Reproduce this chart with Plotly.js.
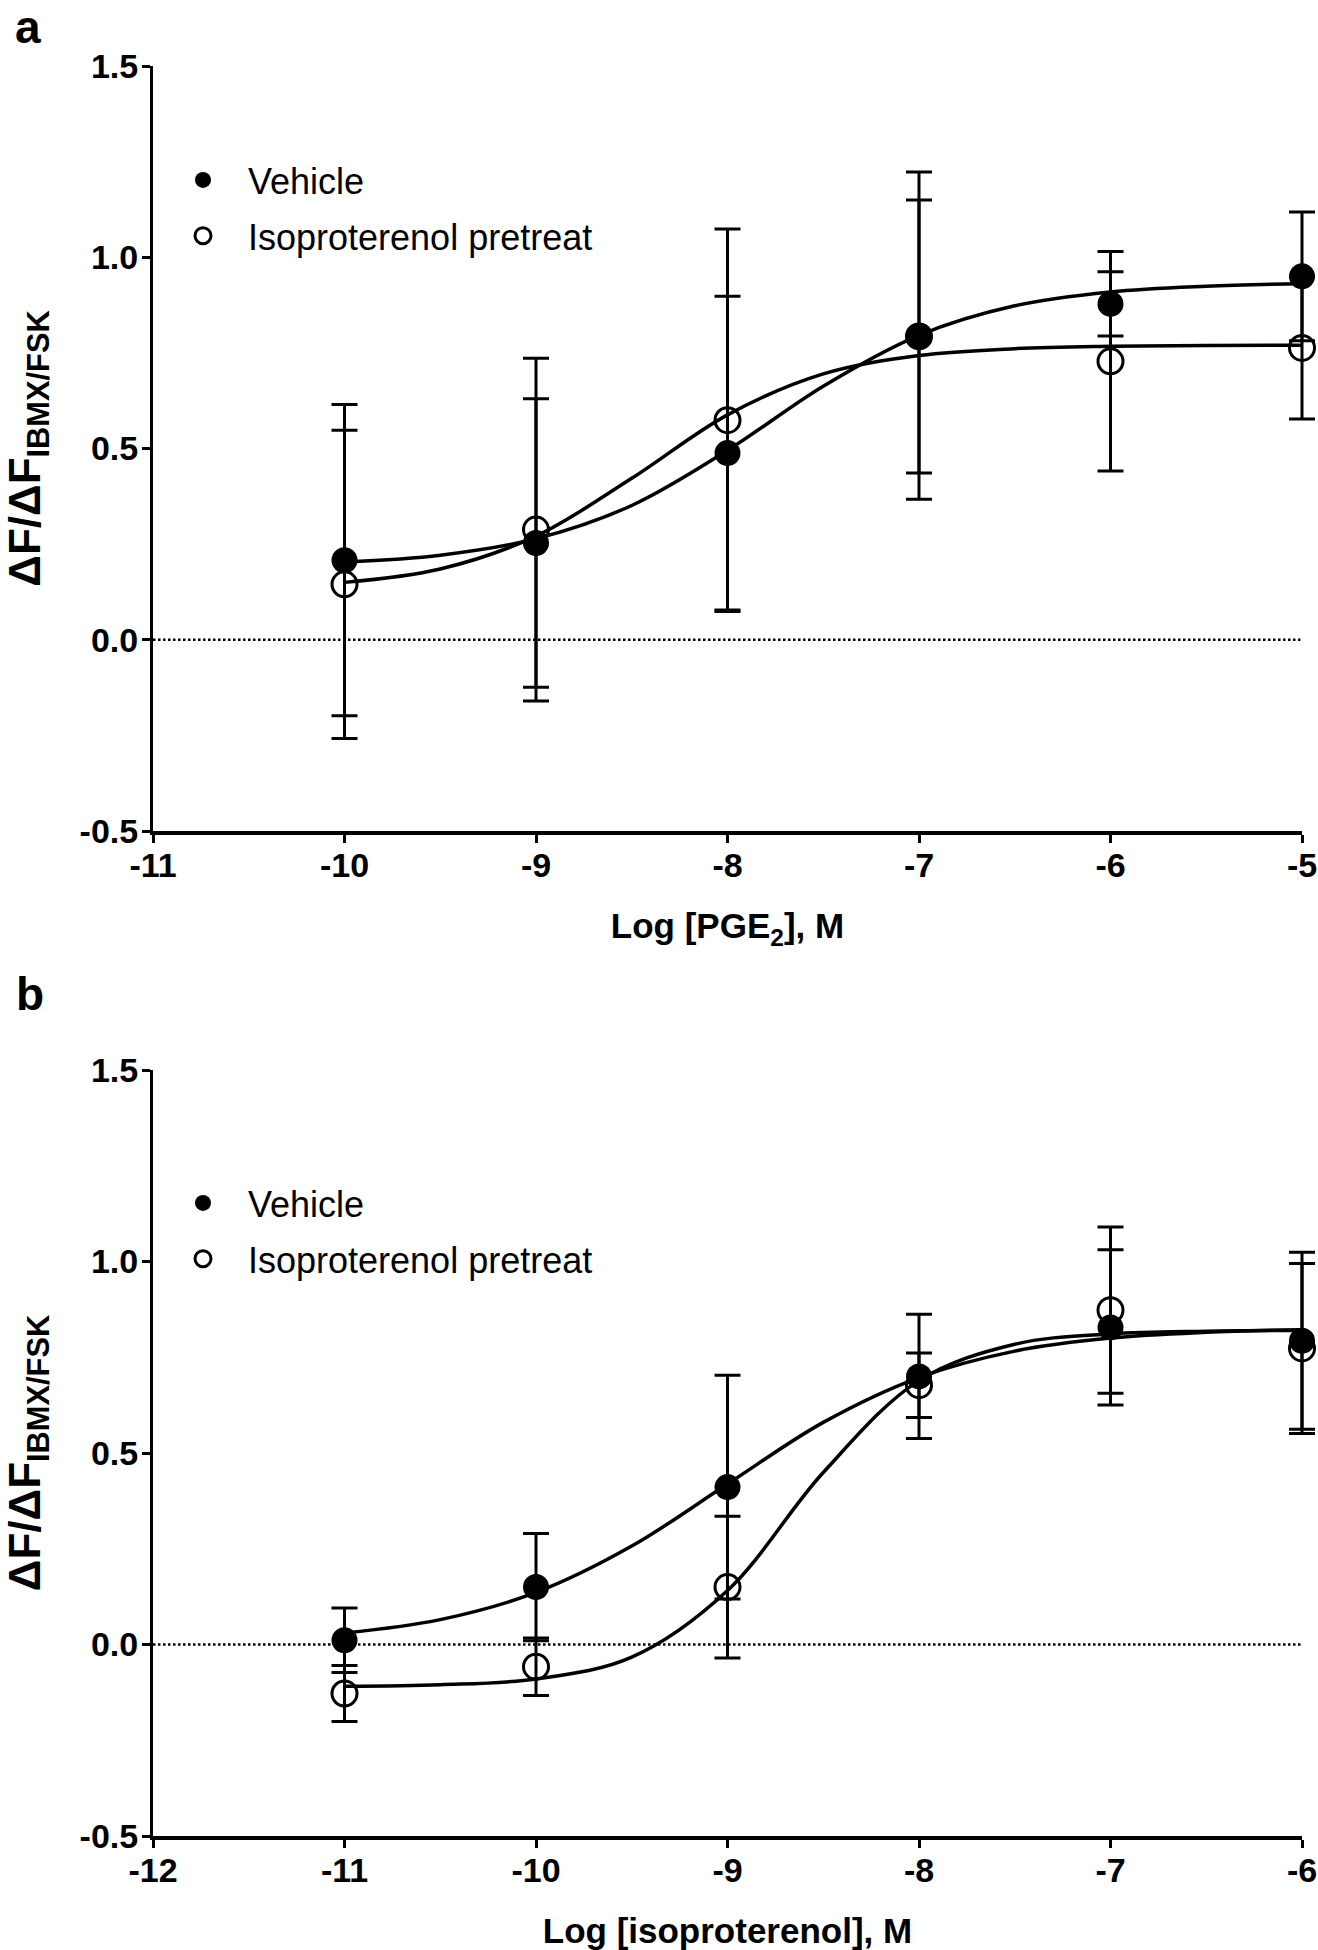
<!DOCTYPE html>
<html>
<head>
<meta charset="utf-8">
<script src="https://cdn.plot.ly/plotly-3.0.1.min.js"></script>
<style>
  html, body { margin: 0; padding: 0; background: #ffffff; }
  #chart { width: 1318px; height: 1950px; }
</style>
</head>
<body>
<div id="chart"></div>
<script>
// ---------- Panel a : PGE2 ----------
var doseA = [-10, -9, -8, -7, -6, -5];
var vehicleA = [0.208, 0.253, 0.488, 0.795, 0.878, 0.950];
var vehicleErrA = [0.407, 0.377, 0.410, 0.428, 0.084, 0.168];
var isoA = [0.145, 0.288, 0.574, 0.793, 0.728, 0.763];
var isoErrA = [0.403, 0.448, 0.500, 0.357, 0.287, 0.186];
// fitted curves
var curveXA = [-10, -9.5, -9, -8.5, -8, -7.5, -7, -6.5, -6, -5.5, -5];
var vehicleFitA = [0.203, 0.221, 0.264, 0.351, 0.495, 0.663, 0.796, 0.873, 0.909, 0.924, 0.931];
var isoFitA = [0.150, 0.185, 0.271, 0.422, 0.588, 0.695, 0.743, 0.761, 0.767, 0.769, 0.770];

// ---------- Panel b : isoproterenol ----------
var doseB = [-11, -10, -9, -8, -7, -6];
var vehicleB = [0.011, 0.150, 0.411, 0.700, 0.828, 0.793];
var vehicleErrB = [0.084, 0.140, 0.292, 0.162, 0.203, 0.231];
var isoB = [-0.128, -0.058, 0.150, 0.677, 0.873, 0.773];
var isoErrB = [0.073, 0.075, 0.185, 0.084, 0.217, 0.222];
var curveXB = [-11, -10.5, -10, -9.5, -9, -8.5, -8, -7.5, -7, -6.5, -6];
var vehicleFitB = [0.030, 0.065, 0.136, 0.257, 0.419, 0.580, 0.697, 0.766, 0.800, 0.815, 0.822];
var isoFitB = [-0.109, -0.105, -0.090, -0.033, 0.141, 0.449, 0.689, 0.784, 0.811, 0.818, 0.820];

// ---------- tick labels ----------
var xTickValsA = [-11, -10, -9, -8, -7, -6, -5];
var xTickTextA = ["-11", "-10", "-9", "-8", "-7", "-6", "-5"];
var xTickValsB = [-12, -11, -10, -9, -8, -7, -6];
var xTickTextB = ["-12", "-11", "-10", "-9", "-8", "-7", "-6"];
var yTickVals = [-0.5, 0, 0.5, 1.0, 1.5];
var yTickText = ["-0.5", "0.0", "0.5", "1.0", "1.5"];

var seriesNames = ["Vehicle", "Isoproterenol pretreat"];
var panelLabels = ["a", "b"];
var xTitles = ["Log [PGE<sub>2</sub>], M", "Log [isoproterenol], M"];
var yTitle = "ΔF/ΔF<sub>IBMX/FSK</sub>";

var FONT = "Liberation Sans, Arial, Helvetica, sans-serif";
var W = 1318, H = 1950;
var AX_L = 153, AX_R = 1302;            // pixel extent of the visible x axes
var PX_PER_UNIT = (AX_R - AX_L) / 6;     // both panels span 6 log units

function curve(x, y, xa, ya) {
  return { x: x, y: y, xaxis: xa, yaxis: ya, mode: "lines", type: "scatter",
    line: { color: "#000", width: 3.5, shape: "spline" }, showlegend: false, hoverinfo: "skip" };
}
function pts(x, y, err, xa, ya, filled, name, legendId, grp, rank) {
  return { x: x, y: y, xaxis: xa, yaxis: ya, mode: "markers", type: "scatter", name: name,
    legend: legendId, legendgroup: grp, legendrank: rank, cliponaxis: false,
    error_y: { type: "data", array: err, visible: true, color: "#000", thickness: 3, width: 13 },
    marker: filled
      ? { symbol: "circle", size: 26, color: "#000", line: { color: "#000", width: 0 } }
      : { symbol: "circle-open", size: 25, color: "#000", line: { color: "#000", width: 3 } } };
}

var data = [
  curve(curveXA, vehicleFitA, "x", "y"),
  curve(curveXA, isoFitA, "x", "y"),
  pts(doseA, isoA, isoErrA, "x3", "y", false, seriesNames[1], "legend", "a2", 2),
  pts(doseA, vehicleA, vehicleErrA, "x3", "y", true, seriesNames[0], "legend", "a1", 1),
  curve(curveXB, vehicleFitB, "x2", "y2"),
  curve(curveXB, isoFitB, "x2", "y2"),
  pts(doseB, isoB, isoErrB, "x4", "y2", false, seriesNames[1], "legend2", "b2", 2),
  pts(doseB, vehicleB, vehicleErrB, "x4", "y2", true, seriesNames[0], "legend2", "b1", 1)
];

function xaxis(vals, text, anchor, title) {
  return {
    domain: [AX_L / W, AX_R / W], range: [vals[0], vals[vals.length - 1]], anchor: anchor,
    showline: true, linecolor: "#000", linewidth: 4, mirror: false,
    ticks: "outside", ticklen: 8, tickwidth: 3, tickcolor: "#000",
    tickmode: "array", tickvals: vals, ticktext: text, ticklabelstandoff: -7,
    tickfont: { family: FONT, size: 34, color: "#000", weight: "bold" },
    showgrid: false, zeroline: false, fixedrange: true,
    title: { text: title, standoff: 32, font: { family: FONT, size: 35, color: "#000", weight: "bold" } }
  };
}
// hidden twin axis with the same scale but extending to the right page edge,
// so the error-bar caps at the last dose are not clipped
function twinX(vals, anchor) {
  return {
    domain: [AX_L / W, 1], range: [vals[0], vals[0] + (W - AX_L) / PX_PER_UNIT],
    anchor: anchor, visible: false, showgrid: false, zeroline: false, fixedrange: true
  };
}
function yaxis(domain, anchor) {
  return {
    domain: domain, range: [-0.5, 1.5], anchor: anchor,
    showline: true, linecolor: "#000", linewidth: 3,
    ticks: "outside", ticklen: 8, tickwidth: 3, tickcolor: "#000",
    tickmode: "array", tickvals: yTickVals, ticktext: yTickText, ticklabelstandoff: -3,
    tickfont: { family: FONT, size: 34, color: "#000", weight: "bold" },
    showgrid: false, zeroline: false, fixedrange: true,
    title: { text: yTitle, standoff: 38, font: { family: FONT, size: 44, color: "#000", weight: "bold" } }
  };
}

function legendCfg(topPx) {
  return {
    x: 158 / W, y: 1 - topPx / H, xref: "paper", yref: "paper", xanchor: "left", yanchor: "top",
    bgcolor: "rgba(0,0,0,0)", borderwidth: 0, tracegroupgap: 6, traceorder: "grouped",
    font: { family: FONT, size: 36, color: "#000" }, itemwidth: 80
  };
}

var layout = {
  width: W, height: H,
  margin: { l: 0, r: 0, t: 0, b: 0, pad: 0 },
  paper_bgcolor: "#fff", plot_bgcolor: "rgba(0,0,0,0)",
  font: { family: FONT, color: "#000" },
  xaxis: xaxis(xTickValsA, xTickTextA, "y", xTitles[0]),
  yaxis: yaxis([1 - 831 / H, 1 - 66 / H], "x"),
  xaxis2: xaxis(xTickValsB, xTickTextB, "y2", xTitles[1]),
  yaxis2: yaxis([1 - 1836 / H, 1 - 1070 / H], "x2"),
  xaxis3: twinX(xTickValsA, "y"),
  xaxis4: twinX(xTickValsB, "y2"),
  legend: legendCfg(150),
  legend2: legendCfg(1173),
  shapes: [
    { type: "line", xref: "x domain", yref: "y", x0: 0, x1: 1, y0: 0, y1: 0,
      line: { color: "#000", width: 2.5, dash: "2.5px,2.5px" }, layer: "below" },
    { type: "line", xref: "x2 domain", yref: "y2", x0: 0, x1: 1, y0: 0, y1: 0,
      line: { color: "#000", width: 2.5, dash: "2.5px,2.5px" }, layer: "below" }
  ],
  annotations: [
    { text: panelLabels[0], xref: "paper", yref: "paper", x: 14 / W, y: 1,
      xanchor: "left", yanchor: "top", showarrow: false, borderpad: 0,
      font: { family: FONT, size: 46, color: "#000", weight: "bold" } },
    { text: panelLabels[1], xref: "paper", yref: "paper", x: 14 / W, y: 1 - 994 / H,
      xanchor: "left", yanchor: "middle", showarrow: false,
      font: { family: FONT, size: 46, color: "#000", weight: "bold" } }
  ],
  showlegend: true
};

Plotly.newPlot("chart", data, layout, { staticPlot: true, displayModeBar: false });
</script>
</body>
</html>
